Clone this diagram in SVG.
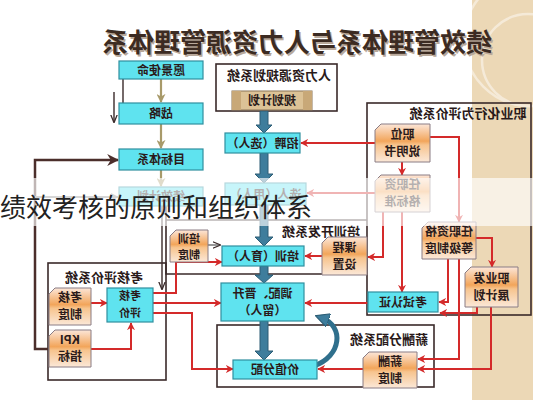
<svg xmlns="http://www.w3.org/2000/svg" width="533" height="400" viewBox="0 0 533 400">
<defs>
<style>
.t{font-family:"Noto Sans CJK SC","Noto Sans",sans-serif;font-size:12px;font-weight:bold;fill:#2a1a1a;text-anchor:middle}
.s{font-size:11px}
.ft{font-family:"Noto Sans CJK SC","Noto Sans",sans-serif;font-size:13px;font-weight:bold;fill:#2a1a1a;text-anchor:middle}
.cy{fill:#5fe3ef;stroke:#2f8f9f;stroke-width:1.2}
.or{fill:url(#og);stroke:#8a7c84;stroke-width:1}
.fr{fill:none;stroke:#3a2a2a;stroke-width:1.6}
.rd{fill:none;stroke:#d42a2a;stroke-width:2;marker-end:url(#ar)}
.ol{fill:none;stroke:#a89a6a;stroke-width:2.2;marker-end:url(#ao)}
.dk{fill:none;stroke:#3a2a2a;stroke-width:1.4;marker-end:url(#ad)}
.bl{fill:#3e7d9c;stroke:#2c5d75;stroke-width:1}
</style>
<linearGradient id="og" x1="0" y1="0" x2="0" y2="1">
<stop offset="0" stop-color="#fce6d8"/>
<stop offset="0.45" stop-color="#f2a55a"/>
<stop offset="0.55" stop-color="#f7c48e"/>
<stop offset="1" stop-color="#fbe8d8"/>
</linearGradient>
<marker id="ar" viewBox="0 0 10 10" refX="9" refY="5" markerWidth="8" markerHeight="8" markerUnits="userSpaceOnUse" orient="auto"><path d="M0,0 L10,5 L0,10 L3,5 Z" fill="#d42a2a"/></marker>
<marker id="ao" viewBox="0 0 10 10" refX="9" refY="5" markerWidth="9" markerHeight="9" markerUnits="userSpaceOnUse" orient="auto"><path d="M0,0 L10,5 L0,10 L3,5 Z" fill="#a89a6a"/></marker>
<marker id="ad" viewBox="0 0 10 10" refX="9" refY="5" markerWidth="8" markerHeight="8" markerUnits="userSpaceOnUse" orient="auto"><path d="M0,1 L10,5 L0,9" fill="none" stroke="#3a2a2a" stroke-width="1.6"/></marker>
<marker id="ab" viewBox="0 0 10 10" refX="9" refY="5" markerWidth="12" markerHeight="12" markerUnits="userSpaceOnUse" orient="auto"><path d="M0,0 L10,5 L0,10 L3,5 Z" fill="#4b2e2b"/></marker>
<marker id="ag" viewBox="0 0 10 10" refX="9" refY="5" markerWidth="8" markerHeight="8" markerUnits="userSpaceOnUse" orient="auto"><path d="M0,0 L10,5 L0,10 L3,5 Z" fill="#8a8a8a"/></marker>
<marker id="ac" viewBox="0 0 10 10" refX="5" refY="5" markerWidth="14" markerHeight="14" markerUnits="userSpaceOnUse" orient="auto"><path d="M0,0 L10,5 L0,10 Z" fill="#3e7d9c" stroke="#2c5d75" stroke-width="0.8"/></marker>
<clipPath id="bc"><rect x="472" y="0" width="61" height="400"/></clipPath>
</defs>

<rect x="0" y="0" width="533" height="400" fill="#ffffff"/>
<g id="background">
<rect x="472" y="0" width="61" height="400" fill="#ecd8b6"/>
<g clip-path="url(#bc)" fill="none" stroke="#f5ead8" stroke-width="2.5">
<circle cx="528" cy="60" r="46"/>
<circle cx="530" cy="40" r="66"/>
</g>
</g>

<g id="title">
<text transform="translate(298.5,53.5) scale(-1,1)" style="font-family:'Noto Sans CJK SC',sans-serif;font-size:26px;font-weight:bold;fill:#b9a99b;text-anchor:middle">绩效管理体系与人力资源管理体系</text>
<text transform="translate(297,52) scale(-1,1)" style="font-family:'Noto Sans CJK SC',sans-serif;font-size:26px;font-weight:bold;fill:#3c2b22;text-anchor:middle">绩效管理体系与人力资源管理体系</text>
</g>

<g id="frames">
<g id="frame-hrplan"><rect class="fr" x="216" y="64" width="121" height="47"/><text class="ft" transform="translate(279,79.5) scale(-1,1)">人力资源规划系统</text></g>
<g id="frame-prof"><rect class="fr" x="367" y="103" width="164" height="212"/><text class="ft" transform="translate(468,117.5) scale(-1,1)">职业化行为评价系统</text></g>
<g id="frame-train"><path class="fr" d="M166,220 L367,220 M367,274 L166,274 L166,206"/><text class="ft" transform="translate(321,235.5) scale(-1,1)">培训开发系统</text></g>
<g id="frame-eval"><rect class="fr" x="48" y="263" width="118" height="117"/><text class="ft" transform="translate(104,281.5) scale(-1,1)">考核评价系统</text></g>
<g id="frame-pay"><rect class="fr" x="217" y="325" width="217" height="62"/><text class="ft" transform="translate(389,343.5) scale(-1,1)">薪酬分配系统</text></g>
</g>

<g id="connectors">
<path class="ol" d="M161,79 L161,102"/>
<path class="ol" d="M161,124 L161,148"/>
<path class="ol" d="M161,170 L161,186"/>
<path class="dk" d="M123,79 L123,112"/>
<path class="dk" d="M114,92 L114,122"/>
<path d="M48,349 L35,349 L35,160 L118,160" fill="none" stroke="#4b2e2b" stroke-width="2.5" marker-end="url(#ab)"/>
<path d="M35,197 L118,197" fill="none" stroke="#8a8a8a" stroke-width="2" marker-end="url(#ag)"/>
<path class="dk" d="M162,206 L162,289"/>
<path d="M208,245 L220,245" fill="none" stroke="#555" stroke-width="1.2" marker-end="url(#ad)"/>

<polygon class="bl" points="260,111 268,111 268,125 272,125 264,133 256,125 260,125"/>
<polygon class="bl" points="260,153 268,153 268,174 273,174 264,183 255,174 260,174"/>
<polygon class="bl" points="260,205 268,205 268,237 273,237 264,246 255,237 260,237"/>
<polygon class="bl" points="260,266 268,266 268,275 273,275 264,283 255,275 260,275"/>
<polygon class="bl" points="260,321 268,321 268,351 273,351 264,360 255,351 260,351"/>
<path d="M314,366 C342,356 344,326 322,318" fill="none" stroke="#2f6f8c" stroke-width="5" marker-end="url(#ac)"/>

<path class="rd" d="M375,143 L301,143"/>
<path class="rd" d="M402,162 L402,175"/>
<path class="rd" d="M430,137 L459,137 L459,222"/>
<path class="rd" d="M375,193 L307,193"/>
<path class="rd" d="M383,212 L383,257 L368,257"/>
<path class="rd" d="M402,212 L402,292"/>
<path class="rd" d="M322,256 L305,256"/>
<path class="rd" d="M476,238 L492,238 L492,267"/>
<path class="rd" d="M448,259 L448,302 L439,302"/>
<path class="rd" d="M477,307 L477,313 L440,313"/>
<path class="rd" d="M459,259 L459,359 L418,359"/>
<path class="rd" d="M491,307 L491,369 L418,369"/>
<path class="rd" d="M368,303 L305,303"/>
<path class="rd" d="M363,369 L318,369"/>
<path class="rd" d="M91,303 L107,303"/>
<path class="rd" d="M91,349 L131,349 L131,323"/>
<path class="rd" d="M153,303 L221,303"/>
<path class="rd" d="M153,313 L192,313 L192,369 L233,369"/>
<path class="rd" d="M153,293 L176,293 L176,262 L222,262"/>
</g>

<g id="n-vision"><rect class="cy" x="119" y="61" width="84" height="18"/><text class="t" transform="translate(161,74.5) scale(-1,1)">愿景使命</text></g>
<g id="n-strategy"><rect class="cy" x="119" y="103" width="84" height="21"/><text class="t" transform="translate(161,118) scale(-1,1)">战略</text></g>
<g id="n-goal"><rect class="cy" x="119" y="149" width="84" height="21"/><text class="t" transform="translate(161,164) scale(-1,1)">目标体系</text></g>
<g id="n-plan"><rect class="cy" x="119" y="187" width="84" height="19"/><text class="t" transform="translate(161,200.5) scale(-1,1)">绩效计划</text></g>
<g id="n-hrplan"><rect x="232" y="91" width="80" height="19" fill="#dcc296" stroke="#8a7458" stroke-width="1"/><rect x="232" y="91" width="9" height="19" fill="#c8a878"/><rect x="303" y="91" width="9" height="19" fill="#c8a878"/><text class="t" transform="translate(272,105) scale(-1,1)">规划计划</text></g>
<g id="n-recruit"><rect class="cy" x="225" y="133" width="75" height="20"/><text class="t" transform="translate(262.5,147.5) scale(-1,1)">招聘（选人）</text></g>
<g id="n-use"><rect class="cy" x="225" y="183" width="81" height="22"/><text class="t" transform="translate(265.5,198.5) scale(-1,1)">选人（用人）</text></g>
<g id="n-train"><rect class="cy" x="222" y="246" width="82" height="20"/><text class="t" transform="translate(263,260.5) scale(-1,1)">培训（育人）</text></g>
<g id="n-promote"><rect class="cy" x="221" y="283" width="83" height="38"/><text class="t" transform="translate(262.5,298) scale(-1,1)">调配、晋升</text><text class="t" transform="translate(262.5,315) scale(-1,1)">（留人）</text></g>
<g id="n-value"><rect class="cy" x="233" y="360" width="84" height="19"/><text class="t" transform="translate(275,374) scale(-1,1)">价值分配</text></g>
<g id="n-evaluate"><rect class="cy" x="107" y="288" width="46" height="34"/><text class="t s" transform="translate(130,300) scale(-1,1)">考核</text><text class="t s" transform="translate(130,316.5) scale(-1,1)">评价</text></g>
<g id="n-exam"><rect class="cy" x="368" y="292" width="70" height="20"/><text class="t" transform="translate(403,306.5) scale(-1,1)">考试认证</text></g>

<g id="n-trainrule"><path class="or" d="M176,230 L208,230 L208,262 L170,262 L170,236 Z"/><text class="t s" transform="translate(189,242.5) scale(-1,1)">培训</text><text class="t s" transform="translate(189,258.5) scale(-1,1)">制度</text></g>
<g id="n-evalrule"><path class="or" d="M55,288 L91,288 L91,325 L49,325 L49,294 Z"/><text class="t" transform="translate(70,302) scale(-1,1)">考核</text><text class="t" transform="translate(70,319) scale(-1,1)">制度</text></g>
<g id="n-kpi"><path class="or" d="M55,330 L91,330 L91,367 L49,367 L49,336 Z"/><text class="t" transform="translate(70,344) scale(-1,1)">KPI</text><text class="t" transform="translate(70,361) scale(-1,1)">指标</text></g>
<g id="n-course"><path class="or" d="M328,237 L367,237 L367,275 L322,275 L322,243 Z"/><text class="t" transform="translate(344.5,252) scale(-1,1)">课程</text><text class="t" transform="translate(344.5,269) scale(-1,1)">设置</text></g>
<g id="n-jobdesc"><path class="or" d="M381,124 L430,124 L430,162 L375,162 L375,130 Z"/><text class="t" transform="translate(402.5,139) scale(-1,1)">职位</text><text class="t" transform="translate(402.5,156) scale(-1,1)">说明书</text></g>
<g id="n-qualstd"><path class="or" d="M381,175 L430,175 L430,212 L375,212 L375,181 Z"/><text class="t" transform="translate(402.5,189) scale(-1,1)">任职资</text><text class="t" transform="translate(402.5,206) scale(-1,1)">格标准</text></g>
<g id="n-qualgrade"><path class="or" d="M428,222 L476,222 L476,259 L422,259 L422,228 Z"/><text class="t" transform="translate(449,236) scale(-1,1)">任职资格</text><text class="t" transform="translate(449,253) scale(-1,1)">等级制度</text></g>
<g id="n-career"><path class="or" d="M471,267 L518,267 L518,307 L465,307 L465,273 Z"/><text class="t" transform="translate(491.5,283) scale(-1,1)">职业发</text><text class="t" transform="translate(491.5,300) scale(-1,1)">展计划</text></g>
<g id="n-payrule"><path class="or" d="M369,352 L417,352 L417,388 L363,388 L363,358 Z"/><text class="t" transform="translate(390,366) scale(-1,1)">薪酬</text><text class="t" transform="translate(390,383) scale(-1,1)">制度</text></g>

<g id="overlay">
<rect x="0" y="178" width="533" height="48" fill="#ffffff" opacity="0.65"/>
<text x="0" y="217" style="font-family:'Noto Sans CJK SC',sans-serif;font-size:26px;fill:#222222">绩效考核的原则和组织体系</text>
</g>
</svg>
